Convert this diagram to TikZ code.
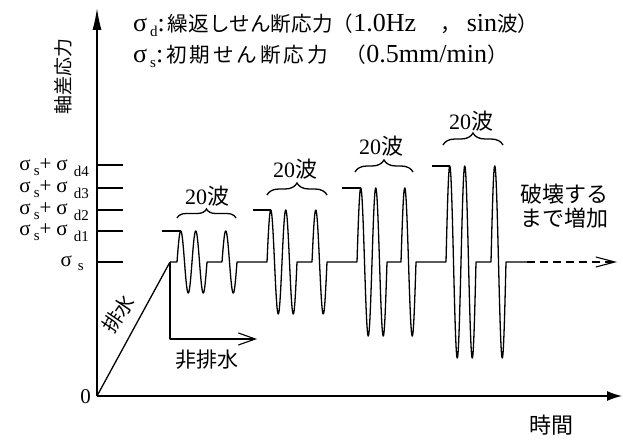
\documentclass[tikz,border=0pt]{standalone}
\usepackage{fontspec}
\setmainfont{Liberation Serif}
\newfontfamily\jp{Noto Sans CJK JP}
\newfontfamily\jpw[LetterSpace=14]{Noto Sans CJK JP}
\usetikzlibrary{arrows.meta,decorations.pathreplacing}
\newcommand\rmt[2]{{\rmfamily\fontsize{#1}{#1}\selectfont #2}}
\newcommand\jpt[2]{{\jp\fontsize{#1}{#1}\selectfont #2}}
\newcommand\sbx[3]{\raisebox{-#1}{\rmt{#2}{#3}}}
\tikzset{
  ln/.style={line width=1.3pt, line join=round},
  brc/.style={line width=1.3pt, decorate, decoration={brace, amplitude=#1}},
  lbl/.style={inner sep=0pt},
}
\begin{document}
\begin{tikzpicture}[x=1pt,y=-1pt]
\useasboundingbox (0,0) rectangle (623,443);
% axes
\coordinate (O) at (97,396);
\coordinate (Ytop) at (97,8);
\coordinate (Xend) at (622,396);
\draw[ln,-{Latex[length=22pt,width=9pt]}] (O) -- (Ytop);
\draw[ln,-{Latex[length=15pt,width=10pt]}] (O) -- (Xend);
% ticks
\foreach \yy in {165,188,210,231,262} \draw[ln] (97,\yy) -- (123,\yy);
% ramp (drained)
\coordinate (R) at (170,262);
\draw[ln] (O) -- (R);
% undrained arrow
\coordinate (U) at (257,339);
\draw[ln,-{Straight Barb[length=17pt,width=12pt,line width=1.1pt]}] (R) |- (U);
% level lines
\draw[ln] (162,231) -- (181,231);
\draw[ln] (253,210) -- (271,210);
\draw[ln] (342,188) -- (361,188);
\draw[ln] (432,166) -- (450,166);
% waveform
\draw[ln] (R) -- (177,262)
  -- plot[domain=177:207, samples=151] (\x,{262-31*sin(180*(\x-177)/7.5)})
  -- (222,262)
  -- plot[domain=222:237, samples=81] (\x,{262-31*sin(180*(\x-222)/7.5)})
  -- (267,262)
  -- plot[domain=267:297, samples=151] (\x,{262-52*sin(180*(\x-267)/7.5)})
  -- (312,262)
  -- plot[domain=312:327, samples=81] (\x,{262-52*sin(180*(\x-312)/7.5)})
  -- (357,262)
  -- plot[domain=357:387, samples=151] (\x,{262-74*sin(180*(\x-357)/7.5)})
  -- (401,262)
  -- plot[domain=401:416, samples=81] (\x,{262-74*sin(180*(\x-401)/7.5)})
  -- (446,262)
  -- plot[domain=446:476, samples=151] (\x,{262-96*sin(180*(\x-446)/7.5)})
  -- (491,262)
  -- plot[domain=491:506, samples=81] (\x,{262-96*sin(180*(\x-491)/7.5)})
  -- (527,262) coordinate (D0);
\coordinate (D1) at (617,262);
\draw[ln,dash pattern=on 8pt off 5pt,-{Straight Barb[length=19pt,width=10pt,line width=1.1pt]}] (D0) -- (D1);
% braces
\draw[brc=9pt] (177,218) -- (236,218);
\draw[brc=12pt] (267,195) -- (327,195);
\draw[brc=12pt] (355,172) -- (413,172);
\draw[brc=12pt] (443,145) -- (503,145);
\node[lbl] (w1) at (207,196) {\rmt{22}{20}\jpt{22}{波}};
\node[lbl] (w2) at (295,169) {\rmt{22}{20}\jpt{22}{波}};
\node[lbl] (w3) at (381,146) {\rmt{22}{20}\jpt{22}{波}};
\node[lbl] (w4) at (471,121) {\rmt{22}{20}\jpt{22}{波}};
% title
\node[lbl,anchor=base west] (t1) at (133,32) {\rmt{26}{σ}\hspace{3pt}\sbx{5pt}{15}{d}\rmt{26}{:}\hspace{3pt}\jpt{20.6}{繰返しせん断応力（}\rmt{26}{1.0Hz}\hspace{24pt}\jpt{20.6}{，}\hspace{6pt}\rmt{26}{sin}\jpt{20.6}{波）}};
\node[lbl,anchor=base west] (t2) at (133,63) {\rmt{26}{σ}\hspace{3pt}\sbx{5pt}{15}{s}\rmt{26}{:}\hspace{3pt}{\jpw\fontsize{20.6}{20.6}\selectfont 初期せん断応力}\hspace{18pt}\jpt{20.6}{（}\rmt{26}{0.5mm/min}\jpt{20.6}{）}};
% left labels
\node[lbl,anchor=base east] (l4) at (89,171) {\rmt{21}{σ}\hspace{3pt}\sbx{5pt}{15}{s}\rmt{21}{+}\hspace{5pt}\rmt{21}{σ}\hspace{6pt}\sbx{6pt}{15}{d4}};
\node[lbl,anchor=base east] (l3) at (89,193) {\rmt{21}{σ}\hspace{3pt}\sbx{5pt}{15}{s}\rmt{21}{+}\hspace{5pt}\rmt{21}{σ}\hspace{6pt}\sbx{6pt}{15}{d3}};
\node[lbl,anchor=base east] (l2) at (89,215) {\rmt{21}{σ}\hspace{3pt}\sbx{5pt}{15}{s}\rmt{21}{+}\hspace{5pt}\rmt{21}{σ}\hspace{6pt}\sbx{6pt}{15}{d2}};
\node[lbl,anchor=base east] (l1) at (89,236) {\rmt{21}{σ}\hspace{3pt}\sbx{5pt}{15}{s}\rmt{21}{+}\hspace{5pt}\rmt{21}{σ}\hspace{6pt}\sbx{6pt}{15}{d1}};
\node[lbl,anchor=base east] (l0) at (84,267) {\rmt{21}{σ}\hspace{6pt}\sbx{4pt}{15}{s}};
\node[lbl,anchor=base east] (zero) at (91,403) {\rmt{21}{0}};
% axis labels
\node[lbl,rotate=90] (ylab) at (63,77) {\jpt{19}{軸差応力}};
\node[lbl] (xlab) at (551,425) {\jpt{22}{時間}};
% other labels
\node[lbl,rotate=56] (drain) at (118,314) {\jpt{20}{排水}};
\node[lbl] (undrain) at (207,360) {\jpt{21}{非排水}};
\node[lbl,anchor=west,align=left] (brk) at (520,206) {\jpt{22}{破壊する}\\[2pt]\jpt{22}{まで増加}};
\end{tikzpicture}
\end{document}
